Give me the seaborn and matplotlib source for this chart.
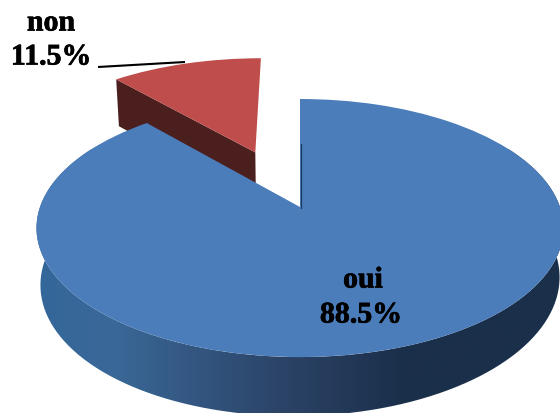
import numpy as np
import matplotlib
matplotlib.use('Agg')
import matplotlib.pyplot as plt
import seaborn as sns
from matplotlib.colors import LinearSegmentedColormap
from matplotlib.path import Path
from matplotlib.patches import PathPatch
from matplotlib.patheffects import withStroke
from matplotlib.transforms import Affine2D, Transform

categories = ['oui', 'non']
shares = [88.5, 11.5]
explode = [0, 0.5]
slice_colors = ['#4b7dbb', '#bf4d4c']

# fake 3D view of the unit disc, in pixels
CX, CY = 300, 208
SX, SY, TILT = 260, 125.6, 0.163
RED_SHIFT = -2


def project(u, v):
    d = 1 + TILT * v
    return CX + SX * u / d, CY - SY * v / d


def project_low(u, v):
    # same point at the bottom of the pie
    x, y = project(u, v)
    return CX + (x - CX) * 0.985, y + 52 - 7 * v - 4 * u


class Perspective(Transform):
    input_dims = 2
    output_dims = 2

    def transform_non_affine(self, values):
        values = np.asarray(values)
        x, y = project(values[:, 0], values[:, 1])
        return np.column_stack([x, y])


def rim(wedge, angles):
    cu, cv = wedge.center
    return cu + np.cos(angles), cv + np.sin(angles)


def polygon(xs, ys):
    return Path(np.column_stack([xs, ys]))


sns.set_theme(style='white')
fig, ax = plt.subplots(figsize=(5.6, 4.14), dpi=100)
fig.subplots_adjust(left=0, right=1, bottom=0, top=1)

wedges, _ = ax.pie(shares, explode=explode, colors=slice_colors, startangle=90,
                   counterclock=False, wedgeprops={'linewidth': 0})
blue, red = wedges
blue.set_transform(Perspective() + ax.transData)
red.set_transform(Perspective() + Affine2D().translate(RED_SHIFT, 0) + ax.transData)
red.set_zorder(3)
blue.set_zorder(5)

# cut face of the small slice
cut = np.radians(red.theta2)
eu, ev = rim(red, np.array([cut]))
cu, cv = red.center
top_x, top_y = project(np.array([cu, eu[0]]), np.array([cv, ev[0]]))
low_x, low_y = project_low(np.array([cu, eu[0]]), np.array([cv, ev[0]]))
ax.add_patch(PathPatch(polygon(np.r_[top_x, low_x[::-1]] + RED_SHIFT, np.r_[top_y, low_y[::-1]]),
                       facecolor='#4c1f1f', edgecolor='none', zorder=2))

# rounded side of the big slice, shaded from left to right
side_cmap = LinearSegmentedColormap.from_list(
    'side', [(0, '#30669a'), (0.2, '#3a6898'), (0.5, '#2c4468'),
             (0.72, '#1a2f4a'), (1, '#1a2f4a')])
angles = np.radians(np.linspace(150, 390, 240))
ru, rv = rim(blue, angles)
tx, ty = project(ru, rv)
lx, ly = project_low(ru, rv)
side = PathPatch(polygon(np.r_[tx, lx[::-1]], np.r_[ty, ly[::-1]]),
                 facecolor='none', edgecolor='none', transform=ax.transData)
ax.add_patch(side)
img = ax.imshow(np.linspace(0, 1, 256)[None, :], cmap=side_cmap, aspect='auto',
                extent=(0, 560, 414, 0), zorder=4)
img.set_clip_path(side)

ax.set_aspect('auto')
ax.set_xlim(0, 560)
ax.set_ylim(414, 0)
ax.axis('off')

# thin dark edge of the big slice near its tip
ax.plot([CX + 0.5, CX + 0.5], [CY + 1, 145], color='#1d3a5f', lw=0.9, zorder=6)

serif = {'family': 'Liberation Serif', 'weight': 'bold', 'size': 21.5, 'color': 'black',
         'ha': 'center', 'va': 'center', 'zorder': 6,
         'path_effects': [withStroke(linewidth=0.5, foreground='black')]}
ax.text(363, 281, f'{categories[0]}', **serif)
ax.text(361, 316, f'{shares[0]}%', **serif)
ax.text(51, 24, f'{categories[1]}', **serif)
ax.text(51, 58, f'{shares[1]}%', **serif)
ax.plot([98, 185], [68, 63], color='black', lw=1.5, zorder=7, solid_capstyle='butt')

fig.savefig('out.png', dpi=100, facecolor='white')
